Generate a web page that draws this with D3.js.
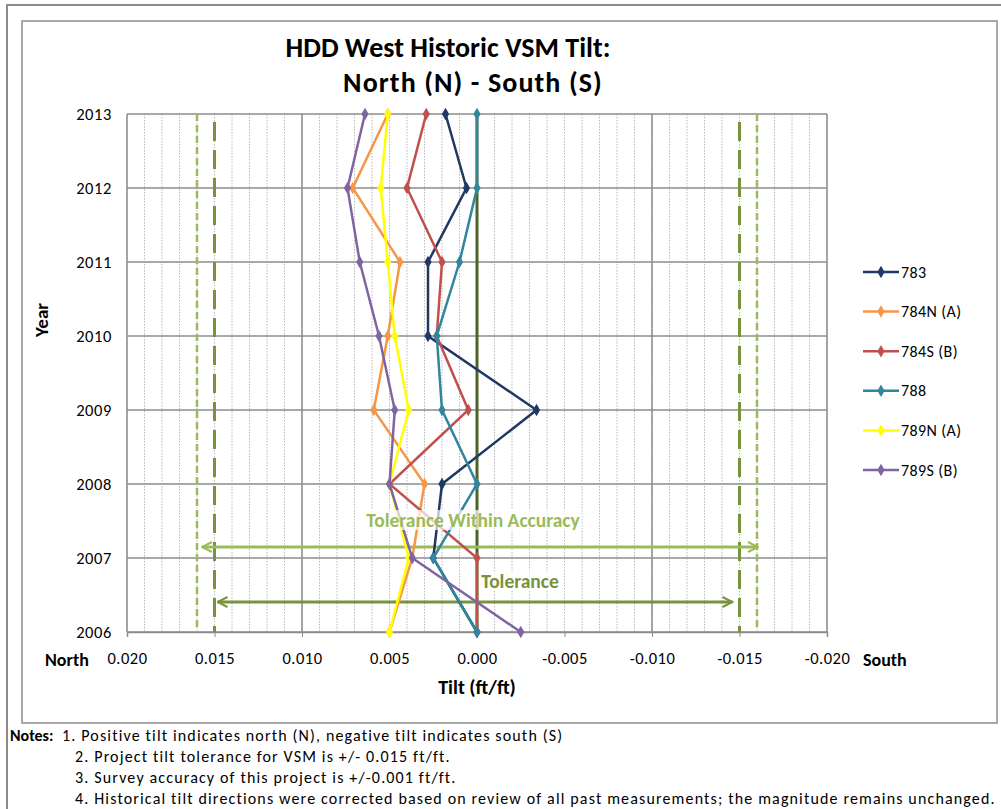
<!DOCTYPE html>
<html>
<head>
<meta charset="utf-8">
<script src="https://cdn.jsdelivr.net/npm/d3@7"></script>
<style>
  body { margin: 0; background: #fff; }
  svg { display: block; font-family: Carlito, Lato, "Open Sans", sans-serif; }
</style>
</head>
<body>
<svg id="chart" width="1001" height="809"></svg>
<script>
// valeurs
const years = [2006, 2007, 2008, 2009, 2010, 2011, 2012, 2013];
const seriesNames = ["783", "784N (A)", "784S (B)", "788", "789N (A)", "789S (B)"];
const seriesColors = ["#1F3864", "#F79646", "#C0504D", "#31859C", "#FFFF00", "#8064A2"];
const tilt783  = [0.0000, 0.0025, 0.0020, -0.0034, 0.0028, 0.0028, 0.0006, 0.0018];
const tilt784N = [0.0050, 0.0037, 0.0030, 0.0059, 0.0051, 0.0044, 0.0071, 0.0051];
const tilt784S = [0.0000, 0.0000, 0.0050, 0.0005, 0.0023, 0.0020, 0.0040, 0.0029];
const tilt788  = [0.0000, 0.0025, 0.0000, 0.0020, 0.0023, 0.0010, 0.0000, 0.0000];
const tilt789N = [0.0050, 0.0039, 0.0050, 0.0039, 0.0047, 0.0051, 0.0055, 0.0051];
const tilt789S = [-0.0025, 0.0037, 0.0050, 0.0047, 0.0056, 0.0067, 0.0074, 0.0064];
const allTilts = [tilt783, tilt784N, tilt784S, tilt788, tilt789N, tilt789S];
const xTicks = [0.020, 0.015, 0.010, 0.005, 0.000, -0.005, -0.010, -0.015, -0.020];
const tolerance = 0.015;
const accuracy = 0.001;
const notes = [
  "1. Positive tilt indicates north (N), negative tilt indicates south (S)",
  "2. Project tilt tolerance for VSM is +/- 0.015 ft/ft.",
  "3. Survey accuracy of this project is +/-0.001 ft/ft.",
  "4. Historical tilt directions were corrected based on review of all past measurements; the magnitude remains unchanged."
];

const svg = d3.select("#chart");

// cadres
svg.append("rect").attr("x", 7).attr("y", 5).attr("width", 1010).attr("height", 820)
  .attr("fill", "none").attr("stroke", "#8c8c8c").attr("stroke-width", 2);
svg.append("rect").attr("x", 22).attr("y", 21).attr("width", 975).attr("height", 702)
  .attr("fill", "none").attr("stroke", "#8c8c8c").attr("stroke-width", 1.5);

const x = d3.scaleLinear().domain([0.020, -0.020]).range([127, 827]);
const y = d3.scaleLinear().domain([2006, 2013]).range([632, 114]);

const g = svg.append("g");

// grille mineure
const minor = d3.range(-20, 21).map(d => d / 1000);
g.selectAll(".minor").data(minor).enter().append("line")
  .attr("x1", d => x(d)).attr("x2", d => x(d))
  .attr("y1", y(2013)).attr("y2", y(2006))
  .attr("stroke", "#b8b8b8").attr("stroke-width", 1).attr("stroke-dasharray", "1.5,1.5");

// grille majeure
g.selectAll(".hgrid").data(years).enter().append("line")
  .attr("x1", x(0.020)).attr("x2", x(-0.020))
  .attr("y1", d => y(d)).attr("y2", d => y(d))
  .attr("stroke", "#8c8c8c").attr("stroke-width", 1.5);
g.selectAll(".vgrid").data([0.020, 0.010, -0.010, -0.020]).enter().append("line")
  .attr("x1", d => x(d)).attr("x2", d => x(d))
  .attr("y1", y(2013)).attr("y2", y(2006))
  .attr("stroke", "#8c8c8c").attr("stroke-width", 1.5);

// axe X
const xAxis = g.append("g")
  .attr("transform", "translate(0," + y(2006) + ")")
  .call(d3.axisBottom(x).tickValues(xTicks).tickFormat(d3.format(".3f")).tickSize(5).tickPadding(15));
xAxis.select(".domain").attr("stroke", "#8c8c8c").attr("stroke-width", 1.5);
xAxis.selectAll(".tick line").attr("stroke", "#8c8c8c");
xAxis.selectAll("text").attr("font-size", 16.5).attr("letter-spacing", 0.5).attr("fill", "#000")
  .style("font-family", "Carlito, Lato, sans-serif")
  .text(d => d3.format(".3f")(d).replace("−", "-"));

// axe Y
const yAxis = g.append("g")
  .attr("transform", "translate(" + x(0.020) + ",0)")
  .call(d3.axisLeft(y).tickValues(years).tickFormat(d3.format("d")).tickSize(0).tickPadding(15));
yAxis.select(".domain").remove();
yAxis.selectAll("text").attr("font-size", 16.5).attr("letter-spacing", 0.6).attr("fill", "#000")
  .style("font-family", "Carlito, Lato, sans-serif");

// ligne zéro
g.append("line")
  .attr("x1", x(0)).attr("x2", x(0)).attr("y1", y(2013)).attr("y2", y(2006))
  .attr("stroke", "#4F6228").attr("stroke-width", 3);

// tolérances
[tolerance, -tolerance].forEach(t => {
  g.append("line")
    .attr("x1", x(t)).attr("x2", x(t)).attr("y1", y(2013) + 8).attr("y2", y(2006))
    .attr("stroke", "#77933C").attr("stroke-width", 3).attr("stroke-dasharray", "19,9");
});
[tolerance + accuracy, -(tolerance + accuracy)].forEach(t => {
  g.append("line")
    .attr("x1", x(t)).attr("x2", x(t)).attr("y1", y(2013)).attr("y2", y(2006))
    .attr("stroke", "#9BBB59").attr("stroke-width", 2.5).attr("stroke-dasharray", "7,4");
});

// flèches
const defs = svg.append("defs");
function arrowHead(id, color) {
  defs.append("marker").attr("id", id)
    .attr("viewBox", "0 0 12 12").attr("refX", 11).attr("refY", 6)
    .attr("markerWidth", 12).attr("markerHeight", 12).attr("markerUnits", "userSpaceOnUse")
    .attr("orient", "auto-start-reverse")
    .append("path").attr("d", "M1,1 L11,6 L1,11")
    .attr("fill", "none").attr("stroke", color).attr("stroke-width", 2);
}
arrowHead("arrLight", "#9BBB59");
arrowHead("arrDark", "#77933C");

g.append("line")
  .attr("x1", x(tolerance + accuracy) + 5).attr("x2", x(-(tolerance + accuracy)) + 1)
  .attr("y1", y(2007) - 11).attr("y2", y(2007) - 11)
  .attr("stroke", "#9BBB59").attr("stroke-width", 3)
  .attr("marker-start", "url(#arrLight)").attr("marker-end", "url(#arrLight)");
g.append("line")
  .attr("x1", x(tolerance) + 3).attr("x2", x(-tolerance) - 7)
  .attr("y1", y(2006) - 30).attr("y2", y(2006) - 30)
  .attr("stroke", "#77933C").attr("stroke-width", 3)
  .attr("marker-start", "url(#arrDark)").attr("marker-end", "url(#arrDark)");

// séries
const line = d3.line().x(d => x(d.v)).y(d => y(d.year));
const diamond = d3.symbol().type(d3.symbolDiamond).size(45);

seriesNames.forEach((name, i) => {
  const pts = years.map((yr, j) => ({ year: yr, v: allTilts[i][j] }));
  g.append("path").datum(pts)
    .attr("d", line).attr("fill", "none")
    .attr("stroke", seriesColors[i]).attr("stroke-width", 2.5);
  g.selectAll(".pt" + i).data(pts).enter().append("path")
    .attr("d", diamond)
    .attr("transform", d => "translate(" + x(d.v) + "," + y(d.year) + ")")
    .attr("fill", seriesColors[i]);
});

// étiquettes tolérance
function label(text, cx, cy, color) {
  const t = g.append("text").attr("x", cx).attr("y", cy)
    .attr("text-anchor", "middle").attr("font-size", 19.5).attr("font-weight", "bold")
    .attr("fill", color).text(text);
  const b = t.node().getBBox();
  g.insert("rect", function() { return t.node(); })
    .attr("x", b.x - 1).attr("y", b.y + 2).attr("width", b.width + 2).attr("height", b.height - 4)
    .attr("fill", "#fff").attr("opacity", 0.7);
}
label("Tolerance Within Accuracy", 473, 527, "#9BBB59");
label("Tolerance", 520, 588, "#77933C");

// légende
seriesNames.forEach((name, i) => {
  const ly = 272 + i * 39.6;
  const lg = svg.append("g");
  lg.append("line").attr("x1", 863).attr("x2", 899).attr("y1", ly).attr("y2", ly)
    .attr("stroke", seriesColors[i]).attr("stroke-width", 2.5);
  lg.append("path").attr("d", diamond).attr("transform", "translate(881," + ly + ")")
    .attr("fill", seriesColors[i]);
  lg.append("text").attr("x", 901).attr("y", ly + 5.5)
    .attr("font-size", 16).attr("letter-spacing", 0.4).text(name);
});

// titres
svg.append("text").attr("x", 448).attr("y", 57).attr("text-anchor", "middle")
  .attr("font-size", 28).attr("font-weight", "bold").text("HDD West Historic VSM Tilt:");
svg.append("text").attr("x", 473).attr("y", 92).attr("text-anchor", "middle")
  .attr("font-size", 28).attr("font-weight", "bold").attr("letter-spacing", 1.1)
  .text("North (N) - South (S)");

svg.append("text").attr("transform", "translate(48,320) rotate(-90)")
  .attr("text-anchor", "middle").attr("font-size", 19).attr("font-weight", "bold").text("Year");
svg.append("text").attr("x", 477).attr("y", 694).attr("text-anchor", "middle")
  .attr("font-size", 20).attr("font-weight", "bold").text("Tilt (ft/ft)");
svg.append("text").attr("x", 45).attr("y", 666)
  .attr("font-size", 18).attr("font-weight", "bold").text("North");
svg.append("text").attr("x", 863).attr("y", 666)
  .attr("font-size", 18).attr("font-weight", "bold").text("South");

// notes
svg.append("text").attr("x", 10).attr("y", 741)
  .attr("font-size", 16).attr("font-weight", "bold").text("Notes:");
notes.forEach((n, i) => {
  svg.append("text").attr("x", i === 0 ? 62 : 75).attr("y", 741 + i * 21)
    .attr("font-size", 16).attr("letter-spacing", 1.15).text(n);
});
</script>
</body>
</html>
